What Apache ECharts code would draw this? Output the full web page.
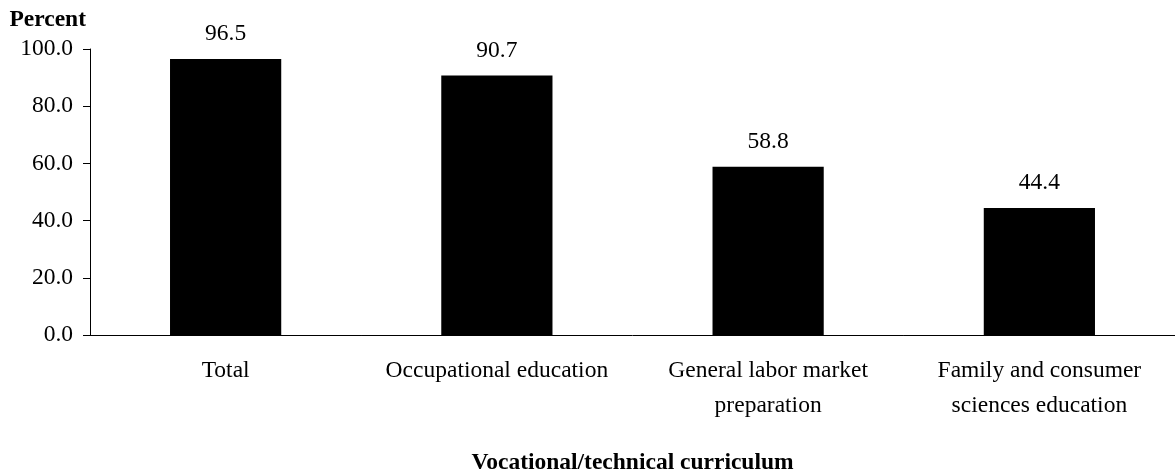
<!DOCTYPE html>
<html>
<head>
<meta charset="utf-8">
<script src="https://cdn.jsdelivr.net/npm/echarts@6/dist/echarts.min.js"></script>
<style>
  html, body { margin: 0; padding: 0; background: #fff; }
  #chart { width: 1175px; height: 474px; }
</style>
</head>
<body>
<div id="chart"></div>
<script>
// categories along the x axis
var categories = ['Total', 'Occupational education', 'General labor market\npreparation', 'Family and consumer\nsciences education'];
// percent values
var values = [96.5, 90.7, 58.8, 44.4];
var yTicks = { min: 0, max: 100, step: 20 };

var font = '"Liberation Serif", "Times New Roman", serif';
var fs = 23.5;
var chart = echarts.init(document.getElementById('chart'));

chart.setOption({
  animation: false,
  textStyle: { fontFamily: font, color: '#000' },
  grid: { left: 90, right: 0, top: 49, bottom: 139, outerBoundsMode: 'none', containLabel: false },
  xAxis: {
    type: 'category',
    data: categories,
    name: 'Vocational/technical curriculum',
    nameLocation: 'middle',
    nameGap: 116,
    nameTextStyle: { fontFamily: font, fontSize: fs, fontWeight: 'bold', color: '#000' },
    axisLine: { lineStyle: { color: '#000', width: 1 } },
    axisTick: { show: false },
    axisLabel: { fontFamily: font, fontSize: fs, color: '#000', margin: 18, lineHeight: 35, interval: 0 }
  },
  yAxis: {
    type: 'value',
    min: yTicks.min,
    max: yTicks.max,
    interval: yTicks.step,
    name: 'Percent',
    nameLocation: 'end',
    nameGap: 17,
    nameTextStyle: { fontFamily: font, fontSize: fs, fontWeight: 'bold', color: '#000', align: 'right', padding: [0, 4, 0, 0] },
    axisLine: { show: true, lineStyle: { color: '#000', width: 1 } },
    axisTick: { show: true, length: 7, lineStyle: { color: '#000' } },
    splitLine: { show: false },
    axisLabel: {
      fontFamily: font, fontSize: fs, color: '#000', margin: 17,
      formatter: function (v) { return v.toFixed(1); }
    }
  },
  series: [{
    type: 'bar',
    data: values,
    barWidth: '41%',
    itemStyle: { color: '#000' },
    label: {
      show: true,
      position: 'top',
      distance: 13,
      fontFamily: font,
      fontSize: fs,
      color: '#000',
      formatter: function (p) { return p.value.toFixed(1); }
    }
  }]
});
</script>
</body>
</html>
